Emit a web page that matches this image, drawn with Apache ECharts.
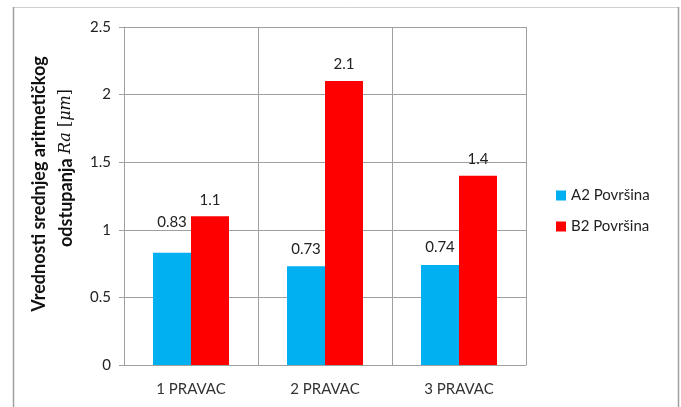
<!DOCTYPE html>
<html>
<head>
<meta charset="utf-8">
<script src="https://cdn.jsdelivr.net/npm/echarts@6/dist/echarts.min.js"></script>
<style>
  html, body { margin: 0; padding: 0; background: #fff; }
  #chart { width: 681px; height: 407px; }
</style>
</head>
<body>
<div id="chart"></div>
<script>
var categories = ['1 PRAVAC', '2 PRAVAC', '3 PRAVAC'];
var seriesA2 = [0.83, 0.73, 0.74];
var seriesB2 = [1.1, 2.1, 1.4];
var yTicks = [0, 0.5, 1, 1.5, 2, 2.5];

var font = 'Lato';
var chart = echarts.init(document.getElementById('chart'));

var option = {
  animation: false,
  textStyle: { fontFamily: font },
  grid: {
    left: 124,
    right: 155,
    top: 27,
    bottom: 42
  },
  legend: {
    orient: 'vertical',
    left: 551,
    top: 183,
    itemWidth: 10,
    itemHeight: 10,
    itemGap: 16,
    icon: 'rect',
    textStyle: { fontFamily: font, fontSize: 15, color: '#222' },
    data: ['A2 Površina', 'B2 Površina']
  },
  xAxis: {
    type: 'category',
    data: categories,
    axisLine: { lineStyle: { color: '#a0a0a0', width: 1 } },
    axisTick: { length: 5, lineStyle: { color: '#a0a0a0' } },
    axisLabel: { margin: 17, fontSize: 15, color: '#333', fontFamily: font },
    splitLine: { show: true, lineStyle: { color: '#a0a0a0', width: 1 } }
  },
  yAxis: {
    type: 'value',
    min: yTicks[0],
    max: yTicks[yTicks.length - 1],
    interval: 0.5,
    axisLine: { show: true, lineStyle: { color: '#a0a0a0', width: 1 } },
    axisTick: { show: true, length: 5, lineStyle: { color: '#a0a0a0' } },
    axisLabel: { margin: 13, fontSize: 15, color: '#222', fontFamily: font },
    splitLine: { lineStyle: { color: '#a0a0a0', width: 1 } }
  },
  series: [
    {
      name: 'A2 Površina',
      type: 'bar',
      barWidth: 38,
      barGap: 0,
      itemStyle: { color: '#00B0F0' },
      label: {
        show: true,
        position: 'top',
        distance: 10,
        fontSize: 15,
        color: '#222',
        fontFamily: font
      },
      data: seriesA2.map(function (v, i) {
        return i === 0 ? { value: v, label: { distance: 23 } } : v;
      })
    },
    {
      name: 'B2 Površina',
      type: 'bar',
      barWidth: 38,
      barGap: 0,
      itemStyle: { color: '#FF0000' },
      label: {
        show: true,
        position: 'top',
        distance: 9,
        fontSize: 15,
        color: '#222',
        fontFamily: font
      },
      data: seriesB2
    }
  ],
  graphic: [
    { type: 'line', shape: { x1: 13, y1: 7.5, x2: 678, y2: 7.5 }, style: { stroke: '#d0d0d0', lineWidth: 1 } },
    { type: 'line', shape: { x1: 13.5, y1: 7, x2: 13.5, y2: 407 }, style: { stroke: '#a0a0a0', lineWidth: 1.5 } },
    { type: 'line', shape: { x1: 678.5, y1: 7, x2: 678.5, y2: 407 }, style: { stroke: '#a0a0a0', lineWidth: 1.5 } },
    {
      type: 'text',
      x: 39.5,
      y: 184,
      rotation: Math.PI / 2,
      style: {
        text: 'Vrednosti srednjeg aritmetičkog',
        fontFamily: font,
        fontWeight: 'bold',
        fontSize: 18,
        fill: '#111',
        align: 'center',
        verticalAlign: 'middle'
      }
    },
    {
      type: 'text',
      x: 66,
      y: 168,
      rotation: Math.PI / 2,
      style: {
        text: '{b|odstupanja }{m|Ra}{n| [}{m|μm}{n|]}',
        align: 'center',
        verticalAlign: 'middle',
        rich: {
          b: { fontFamily: font, fontWeight: 'bold', fontSize: 18, fill: '#111' },
          m: { fontFamily: 'DejaVu Serif', fontStyle: 'italic', fontSize: 16, fill: '#111' },
          n: { fontFamily: 'DejaVu Serif', fontSize: 16, fill: '#111' }
        }
      }
    }
  ]
};

chart.setOption(option);
</script>
</body>
</html>
